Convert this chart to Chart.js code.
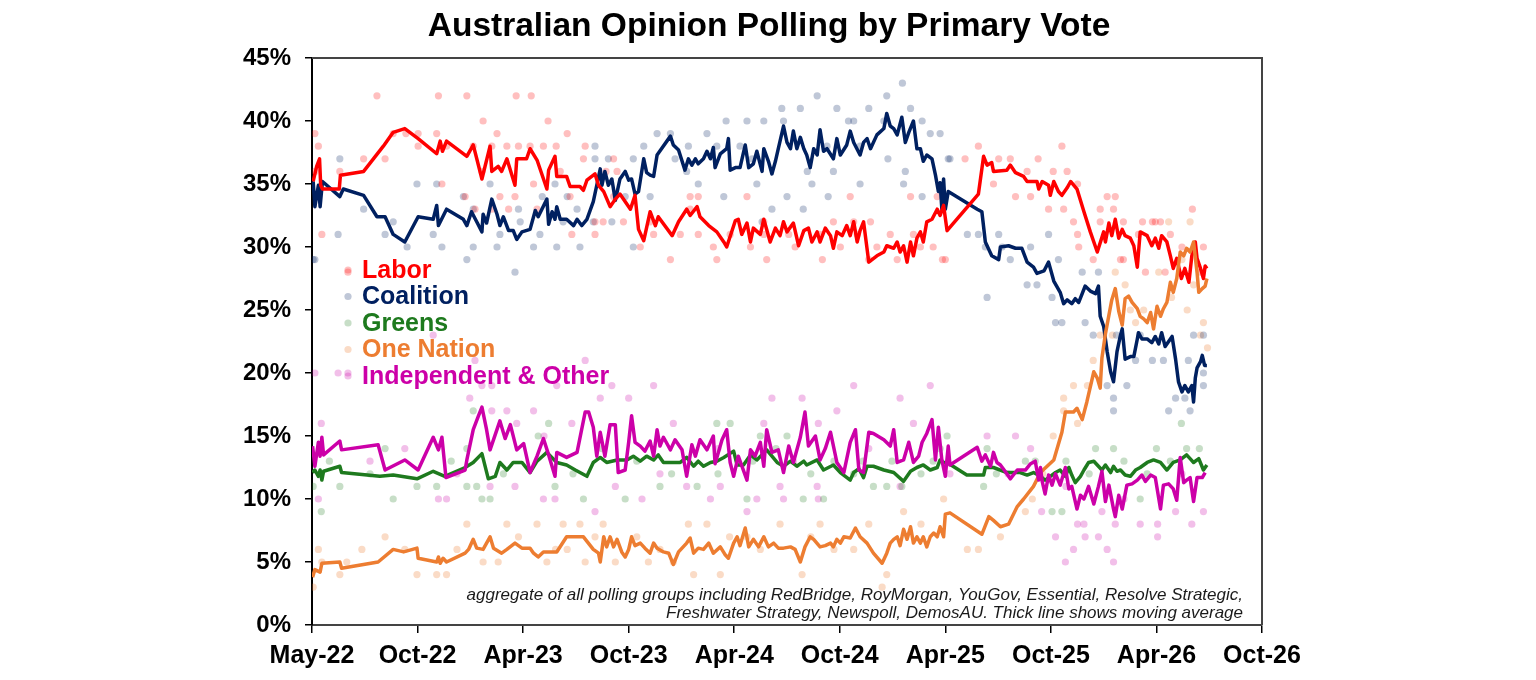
<!DOCTYPE html>
<html>
<head>
<meta charset="utf-8">
<script src="https://cdn.jsdelivr.net/npm/chart.js"></script>
<style>
  html, body { margin: 0; padding: 0; background: #fff; }
  #wrap { width: 1536px; height: 680px; }
</style>
</head>
<body>
<div id="wrap"><canvas id="chart" width="1536" height="680"></canvas></div>
<script>
// === Données (x = jours depuis le 1er mai 2022, y = % du vote primaire) ===
const tickLabels = ['May-22', 'Oct-22', 'Apr-23', 'Oct-23', 'Apr-24', 'Oct-24', 'Apr-25', 'Oct-25', 'Apr-26', 'Oct-26'];
const tickStep = 182;

const seriesNames = ['Labor', 'Coalition', 'Greens', 'One Nation', 'Independent & Other'];
const seriesColors = ['#FF0000', '#002060', '#1E7A1E', '#ED7D31', '#CC00A8'];
const dotColors = ['rgba(255,0,0,0.25)', 'rgba(0,32,96,0.25)', 'rgba(30,122,30,0.25)', 'rgba(237,125,49,0.28)', 'rgba(204,0,168,0.25)'];

// moyennes mobiles
const laborAvg = [[2,35.2],[8,36.4],[13,37.0],[15,34.9],[18,34.6],[47,34.6],[49,35.7],[89,36.0],[123,38.0],[140,39.1],[160,39.4],[183,38.6],[215,37.4],[221,38.4],[225,37.6],[232,38.4],[267,37.2],[278,38.1],[293,35.4],[307,38.0],[310,36.0],[321,36.4],[327,36.0],[336,37.0],[350,34.9],[353,37.0],[370,37.0],[376,37.8],[388,36.9],[405,34.6],[408,36.1],[419,37.2],[422,35.6],[439,35.6],[445,34.8],[462,34.8],[468,34.5],[474,35.3],[488,35.8],[494,34.9],[503,34.4],[514,33.2],[523,33.8],[531,34.2],[549,33.0],[557,34.1],[563,31.4],[572,30.5],[583,32.8],[592,31.7],[597,32.4],[621,30.9],[632,32.0],[646,33.0],[652,32.5],[664,33.2],[669,32.4],[684,31.7],[698,31.2],[710,30.4],[715,30.0],[730,32.1],[735,32.2],[741,31.0],[750,31.9],[756,30.4],[761,31.5],[773,31.0],[779,32.2],[790,30.4],[799,31.5],[807,30.9],[813,32.0],[819,31.2],[830,31.9],[839,30.1],[848,31.3],[856,31.5],[862,30.4],[871,31.2],[876,30.4],[885,31.5],[894,30.9],[899,29.9],[905,31.2],[914,30.9],[922,31.7],[928,30.9],[934,32.0],[940,30.4],[945,31.3],[951,32.0],[960,28.8],[974,29.3],[986,29.6],[991,30.1],[1003,29.9],[1009,30.4],[1014,29.6],[1020,30.1],[1026,28.8],[1032,30.4],[1037,29.3],[1043,30.7],[1049,31.2],[1054,30.4],[1060,32.0],[1069,32.2],[1078,33.0],[1083,32.5],[1089,33.3],[1095,31.3],[1149,34.2],[1158,37.2],[1164,36.5],[1172,36.7],[1175,36.0],[1198,36.1],[1204,36.5],[1213,35.9],[1227,35.6],[1233,35.2],[1250,35.2],[1253,34.6],[1259,35.2],[1270,34.9],[1273,34.1],[1279,35.2],[1287,34.4],[1293,34.1],[1302,34.7],[1308,35.2],[1319,34.6],[1331,32.8],[1342,31.2],[1354,29.6],[1365,31.2],[1368,30.4],[1374,31.9],[1379,30.9],[1385,32.2],[1391,30.7],[1397,31.4],[1402,30.9],[1411,30.7],[1417,30.1],[1423,28.4],[1428,31.2],[1440,30.9],[1448,30.1],[1454,30.7],[1460,29.9],[1465,30.9],[1474,30.4],[1480,29.3],[1485,28.3],[1491,29.1],[1499,27.5],[1505,28.3],[1512,27.2],[1517,29.3],[1523,30.4],[1526,29.1],[1532,28.3],[1537,27.5],[1540,28.5],[1543,28.3]];

const coalitionAvg = [[2,35.2],[5,33.2],[11,34.9],[14,33.2],[18,35.2],[48,34.0],[54,34.6],[89,34.1],[112,32.4],[126,32.4],[140,31.0],[160,30.4],[183,32.4],[209,32.2],[215,33.3],[218,31.7],[232,33.0],[261,32.2],[267,31.7],[275,32.8],[284,32.0],[293,31.2],[295,32.6],[301,31.9],[310,33.8],[319,32.6],[324,31.7],[330,32.4],[339,31.3],[347,31.3],[353,30.6],[362,31.2],[376,31.4],[385,32.9],[390,32.4],[405,33.8],[408,31.8],[414,32.8],[419,32.2],[422,33.2],[428,32.2],[439,32.2],[451,31.7],[457,32.2],[465,31.7],[474,32.2],[485,33.6],[491,34.9],[497,36.2],[500,34.9],[505,36.0],[511,34.9],[517,35.4],[523,33.7],[531,35.4],[540,36.0],[546,35.3],[551,35.4],[557,34.2],[563,34.4],[572,37.0],[577,35.9],[583,35.7],[589,35.6],[595,37.3],[618,38.8],[623,38.1],[632,37.7],[643,36.1],[649,37.0],[655,36.5],[661,37.0],[666,36.6],[675,37.0],[681,37.6],[687,37.0],[692,37.9],[695,36.3],[704,37.4],[715,37.8],[718,38.6],[721,36.1],[730,36.3],[738,36.3],[747,38.1],[753,36.3],[761,36.6],[767,37.6],[776,36.0],[779,37.8],[787,36.8],[793,35.8],[799,36.8],[804,37.8],[813,39.6],[819,38.3],[825,37.8],[830,39.2],[836,37.8],[842,38.7],[848,37.8],[853,37.3],[859,36.3],[865,37.8],[871,37.3],[876,39.3],[882,37.6],[888,37.8],[899,37.0],[905,38.6],[911,37.3],[922,38.1],[928,39.2],[934,38.3],[945,37.3],[951,38.3],[957,38.6],[963,37.8],[974,38.9],[986,39.4],[991,40.6],[997,39.6],[1003,39.4],[1009,38.9],[1017,40.3],[1023,38.3],[1029,39.1],[1037,40.0],[1043,37.8],[1049,37.8],[1054,36.8],[1060,37.3],[1069,37.0],[1075,35.7],[1080,34.4],[1083,35.1],[1086,33.0],[1089,35.4],[1092,33.0],[1097,34.4],[1147,33.0],[1155,32.8],[1161,30.4],[1172,29.3],[1184,29.0],[1187,30.0],[1201,30.1],[1213,29.9],[1224,29.9],[1233,28.8],[1244,28.4],[1250,27.9],[1262,28.1],[1270,28.8],[1279,27.3],[1290,26.4],[1296,25.5],[1302,25.8],[1310,25.5],[1316,25.9],[1322,25.6],[1328,26.3],[1333,26.9],[1342,26.5],[1351,26.3],[1356,26.9],[1359,24.5],[1365,23.7],[1371,21.7],[1377,20.1],[1382,19.3],[1388,21.7],[1394,23.0],[1397,23.5],[1402,21.1],[1411,21.3],[1417,21.3],[1423,22.7],[1425,23.2],[1431,22.7],[1440,22.7],[1448,22.4],[1454,22.9],[1460,22.3],[1465,23.2],[1471,22.1],[1477,22.5],[1483,22.9],[1489,21.1],[1494,19.3],[1500,18.5],[1505,19.0],[1511,18.5],[1517,19.0],[1520,17.7],[1523,19.6],[1526,20.4],[1532,20.9],[1535,21.4],[1539,20.6],[1543,20.6]];

const greensAvg = [[1,12.1],[5,12.3],[11,11.8],[14,12.3],[17,11.5],[20,12.2],[48,12.6],[51,12.1],[117,11.8],[140,11.9],[181,11.6],[209,12.2],[229,11.8],[264,12.5],[278,12.9],[293,13.6],[304,11.6],[316,11.8],[324,12.9],[336,12.3],[347,12.9],[362,12.9],[376,12.1],[388,13.0],[405,13.7],[422,12.9],[439,12.7],[454,12.3],[474,11.8],[485,12.9],[497,13.3],[508,12.9],[526,13.1],[543,13.1],[554,13.4],[566,13.0],[577,13.4],[589,13.1],[597,13.5],[606,12.9],[635,12.9],[646,13.3],[658,12.6],[666,13.0],[675,12.6],[687,12.9],[698,13.0],[710,13.3],[727,13.8],[733,12.7],[744,12.7],[756,13.5],[767,13.1],[784,13.9],[802,12.9],[813,12.6],[825,13.0],[836,12.6],[848,13.0],[853,12.7],[871,13.1],[882,12.3],[899,12.7],[911,12.1],[928,11.5],[934,12.1],[943,12.4],[951,11.7],[957,12.6],[968,12.6],[986,12.3],[1003,12.1],[1020,11.4],[1032,12.2],[1043,12.5],[1054,12.7],[1066,12.3],[1078,12.5],[1083,13.1],[1089,12.9],[1095,12.9],[1129,11.9],[1158,11.9],[1161,12.5],[1175,12.5],[1198,12.1],[1221,12.1],[1233,11.9],[1244,12.1],[1256,11.8],[1264,11.5],[1273,11.8],[1282,12.1],[1290,12.3],[1299,11.8],[1305,12.5],[1310,11.9],[1316,11.3],[1325,11.8],[1331,12.3],[1339,12.9],[1348,13.0],[1356,12.6],[1362,12.3],[1368,12.7],[1377,12.1],[1382,12.6],[1388,12.2],[1394,12.3],[1402,11.9],[1411,11.8],[1420,12.3],[1428,12.5],[1440,12.9],[1451,13.1],[1463,12.9],[1474,12.3],[1485,12.9],[1497,13.1],[1508,13.5],[1514,13.2],[1520,12.9],[1529,13.2],[1537,12.3],[1543,12.7]];

const oneNationAvg = [[1,3.8],[5,4.4],[14,4.2],[17,4.9],[48,5.0],[51,4.5],[114,5.0],[140,6.0],[158,5.8],[181,6.1],[183,5.3],[215,5.0],[218,5.4],[221,4.9],[226,5.3],[232,5.0],[264,5.7],[270,6.0],[278,6.8],[284,6.1],[295,6.0],[307,7.0],[313,6.1],[327,5.7],[336,6.0],[350,6.5],[362,6.1],[376,6.1],[382,5.7],[390,5.4],[399,5.8],[422,5.8],[439,7.0],[468,7.0],[485,6.0],[494,5.7],[497,5.0],[503,7.0],[508,6.2],[514,7.0],[520,6.2],[526,6.8],[534,5.8],[540,5.4],[546,6.0],[551,7.0],[557,6.3],[566,6.5],[574,6.1],[583,5.7],[589,6.5],[595,6.1],[606,5.8],[615,5.7],[623,4.8],[632,5.8],[646,6.5],[652,6.9],[658,5.7],[666,6.1],[675,6.0],[684,6.5],[692,5.7],[704,6.2],[712,5.6],[718,5.3],[727,6.5],[733,7.0],[738,6.3],[747,7.7],[753,6.2],[761,6.8],[770,6.2],[779,7.0],[787,6.2],[796,6.5],[804,6.1],[813,6.1],[825,6.2],[833,6.0],[842,5.0],[850,6.2],[859,7.0],[865,6.8],[876,6.2],[885,6.3],[894,6.5],[899,6.2],[905,6.8],[911,6.5],[917,7.0],[928,6.9],[937,7.7],[945,7.0],[957,6.5],[968,5.7],[983,4.9],[991,5.7],[997,6.5],[1003,6.8],[1009,7.0],[1014,6.3],[1020,7.6],[1026,6.8],[1032,7.8],[1037,6.5],[1043,7.0],[1049,6.5],[1054,7.0],[1060,6.2],[1066,7.0],[1072,7.3],[1078,7.0],[1083,7.8],[1089,7.0],[1092,8.8],[1100,8.9],[1155,7.2],[1167,8.6],[1175,8.3],[1187,7.8],[1201,8.0],[1216,9.4],[1227,10.0],[1244,11.0],[1256,12.1],[1279,13.1],[1293,15.3],[1299,16.9],[1313,16.9],[1319,17.2],[1328,16.3],[1336,17.7],[1348,20.1],[1354,19.6],[1359,18.8],[1362,21.2],[1368,23.1],[1379,25.8],[1385,26.7],[1391,24.9],[1397,23.8],[1402,25.9],[1408,26.1],[1414,25.6],[1423,25.1],[1428,24.5],[1434,24.3],[1440,24.0],[1446,24.8],[1451,23.5],[1457,25.3],[1463,24.5],[1468,25.1],[1474,25.6],[1480,27.2],[1485,26.4],[1491,27.5],[1497,29.6],[1503,29.3],[1508,29.9],[1514,29.6],[1520,30.4],[1526,28.0],[1529,26.4],[1535,26.7],[1540,26.9],[1543,27.5]];

const otherAvg = [[1,14.2],[5,12.6],[11,14.5],[14,13.4],[17,14.9],[20,13.5],[48,14.6],[51,13.9],[114,14.3],[126,12.3],[160,13.1],[183,12.3],[209,14.9],[218,13.9],[224,14.9],[231,11.7],[264,12.3],[267,13.1],[278,15.5],[287,16.6],[293,17.3],[301,15.5],[307,13.9],[324,16.2],[333,14.8],[342,15.9],[353,13.9],[365,14.4],[376,12.1],[388,13.4],[399,14.8],[408,13.5],[419,11.8],[422,13.7],[439,13.3],[457,13.7],[471,16.9],[477,16.9],[485,15.7],[491,13.4],[497,15.3],[505,13.4],[514,15.9],[523,15.9],[528,12.1],[540,12.3],[546,14.5],[551,16.6],[557,14.5],[566,14.2],[574,13.8],[583,14.6],[589,13.4],[595,15.5],[600,14.2],[606,14.9],[618,13.9],[626,14.7],[638,13.9],[646,11.8],[655,14.3],[661,13.4],[669,14.7],[681,13.9],[692,15.0],[695,12.8],[707,14.7],[715,15.5],[721,12.9],[727,11.8],[735,13.4],[750,11.5],[756,13.9],[764,13.4],[773,14.5],[779,12.6],[784,15.5],[793,13.7],[804,13.9],[813,12.1],[822,14.2],[830,12.9],[842,14.9],[850,16.9],[856,14.2],[868,15.0],[876,13.1],[885,14.0],[894,15.3],[905,12.9],[917,12.1],[928,14.5],[937,15.5],[943,12.3],[951,12.1],[960,15.3],[968,15.2],[986,14.7],[997,14.2],[1003,15.5],[1009,12.9],[1020,13.1],[1029,14.5],[1037,12.9],[1046,13.4],[1052,14.5],[1060,15.2],[1069,16.3],[1075,13.1],[1080,15.7],[1086,13.1],[1092,11.8],[1097,14.2],[1100,12.7],[1147,14.1],[1155,13.0],[1161,13.5],[1170,12.6],[1175,13.7],[1181,12.9],[1187,12.7],[1195,12.2],[1204,11.6],[1216,12.3],[1230,12.3],[1239,12.8],[1247,13.0],[1253,11.5],[1256,12.5],[1259,11.4],[1264,10.4],[1270,11.9],[1276,11.1],[1282,12.0],[1290,11.1],[1299,12.5],[1305,10.8],[1310,11.0],[1319,9.2],[1325,10.3],[1331,10.0],[1339,11.0],[1348,9.6],[1356,11.0],[1362,12.2],[1368,9.8],[1374,11.1],[1382,9.2],[1385,8.6],[1391,10.3],[1397,9.2],[1405,11.1],[1414,11.2],[1423,11.5],[1431,11.9],[1437,11.4],[1446,11.9],[1454,11.7],[1463,9.2],[1468,11.1],[1477,11.2],[1485,10.8],[1491,9.9],[1497,13.3],[1503,11.3],[1508,11.5],[1514,11.7],[1520,9.8],[1526,11.7],[1535,11.7],[1540,12.1]];

// sondages individuels (points)
const laborPolls = [[5,39],[5,36],[11,38],[17,31],[62,28],[48,36],[89,37],[112,42],[126,37],[140,39],[162,39],[183,39],[183,38],[215,39],[218,42],[224,35],[232,38],[264,34],[267,42],[278,38],[281,33],[293,36],[295,40],[310,38],[310,33],[319,39],[324,34],[336,38],[339,33],[350,34],[352,42],[356,38],[376,38],[378,42],[382,35],[388,33],[399,38],[407,40],[421,38],[428,36],[440,39],[445,34],[448,31],[468,37],[471,38],[488,32],[488,31],[502,32],[507,36],[520,37],[520,34],[526,36],[537,32],[566,30],[583,32],[589,31],[618,29],[635,31],[652,34],[652,33],[666,34],[666,31],[692,30],[698,29],[721,31],[750,34],[756,30],[779,32],[779,31],[784,29],[822,31],[833,30],[876,31],[880,29],[899,32],[911,30],[928,34],[934,32],[940,31],[960,29],[963,32],[974,30],[997,31],[1009,29],[1032,34],[1037,31],[1049,30],[1071,30],[1078,34],[1087,29],[1092,29],[1126,37],[1149,38],[1175,35],[1184,37],[1204,37],[1213,34],[1233,36],[1239,34],[1252,37],[1270,33],[1278,36],[1293,38],[1296,33],[1302,36],[1313,32],[1320,35],[1320,31],[1322,30],[1347,29],[1359,33],[1359,32],[1371,34],[1382,33],[1385,34],[1394,29],[1399,32],[1399,29],[1425,31],[1432,32],[1437,28],[1449,32],[1454,32],[1463,32],[1471,28],[1480,31],[1500,30],[1518,33],[1532,28],[1537,30]];

const coalitionPolls = [[2,29],[5,29],[45,31],[48,37],[89,33],[126,31],[140,32],[164,30],[181,35],[209,31],[215,35],[224,30],[261,34],[267,29],[278,33],[278,30],[307,35],[319,30],[324,31],[350,28],[356,33],[359,32],[382,30],[393,31],[397,34],[419,35],[422,30],[433,32],[440,34],[457,33],[462,30],[485,32],[488,38],[488,37],[511,37],[517,32],[540,34],[554,37],[554,30],[572,38],[583,34],[595,39],[618,39],[626,37],[646,36],[649,38],[666,35],[681,39],[698,38],[710,34],[714,40],[738,38],[750,40],[759,37],[767,35],[776,32],[779,40],[793,33],[810,41],[813,40],[819,34],[842,41],[847,33],[854,36],[862,35],[871,42],[888,38],[890,34],[899,36],[905,41],[925,40],[934,40],[945,38],[945,35],[960,41],[986,40],[991,42],[993,37],[1018,43],[1020,35],[1023,36],[1032,41],[1052,40],[1052,34],[1066,39],[1083,39],[1097,37],[1100,37],[1130,31],[1149,31],[1161,30],[1164,26],[1184,31],[1190,30],[1204,29],[1233,27],[1239,30],[1250,27],[1270,31],[1276,26],[1282,24],[1287,29],[1293,24],[1328,28],[1333,24],[1347,23],[1356,28],[1371,19],[1382,18],[1382,17],[1387,23],[1405,19],[1420,21],[1428,23],[1449,21],[1468,21],[1477,17],[1489,18],[1505,18],[1511,21],[1514,17],[1520,23],[1537,23],[1537,20],[1537,19]];

const greensPolls = [[2,11],[16,9],[30,13],[48,11],[100,12],[126,14],[140,10],[181,11],[215,11],[240,13],[267,11],[267,14],[278,17],[284,11],[293,10],[307,10],[330,12],[390,15],[408,16],[419,11],[450,12],[468,10],[500,14],[540,10],[560,13],[600,11],[620,12],[664,11],[698,16],[700,12],[721,16],[750,10],[760,13],[773,15],[800,14],[819,15],[847,10],[860,12],[882,10],[900,13],[934,12],[950,13],[968,11],[991,11],[1000,13],[1017,11],[1050,12],[1071,13],[1083,14],[1095,15],[1158,11],[1164,14],[1180,12],[1230,13],[1247,13],[1276,9],[1293,9],[1300,13],[1340,12],[1351,14],[1382,14],[1400,13],[1428,10],[1440,12],[1456,14],[1480,13],[1499,16],[1508,14],[1530,14]];

const oneNationPolls = [[2,3],[11,6],[17,5],[48,4],[60,5],[86,6],[126,7],[160,6],[181,4],[215,4],[232,4],[250,6],[267,8],[295,5],[321,5],[336,8],[356,7],[388,8],[405,5],[420,6],[433,8],[440,6],[462,8],[471,5],[488,7],[502,8],[523,5],[560,7],[580,5],[600,6],[623,5],[649,8],[658,4],[681,8],[704,4],[720,7],[750,7],[773,6],[807,8],[845,4],[860,7],[876,8],[900,6],[934,6],[960,8],[983,3],[991,4],[1020,9],[1050,8],[1089,10],[1130,6],[1149,6],[1187,7],[1230,9],[1242,10],[1260,12],[1278,15],[1296,17],[1296,18],[1313,19],[1320,16],[1337,19],[1347,21],[1359,23],[1380,23],[1385,28],[1402,27],[1411,25],[1420,24],[1434,25],[1460,28],[1477,32],[1482,26],[1500,29],[1509,25],[1514,32],[1520,27],[1532,23],[1537,24],[1544,22]];

const otherPolls = [[5,20],[11,10],[16,16],[45,20],[62,20],[100,13],[160,14],[209,23],[218,10],[232,10],[250,12],[272,18],[281,21],[293,19],[307,11],[310,17],[310,19],[336,17],[350,11],[353,16],[382,17],[399,10],[400,15],[419,10],[422,19],[448,16],[471,21],[488,9],[497,18],[517,19],[523,11],[546,18],[569,10],[589,19],[600,12],[623,16],[646,11],[687,10],[700,14],[704,11],[750,9],[767,10],[779,16],[793,18],[807,11],[813,10],[830,13],[845,18],[871,11],[873,16],[873,10],[905,17],[934,19],[960,14],[1014,18],[1014,11],[1037,16],[1066,19],[1100,12],[1164,15],[1200,12],[1213,15],[1239,14],[1258,9],[1282,7],[1299,5],[1300,11],[1313,6],[1320,8],[1331,8],[1333,7],[1356,7],[1362,9],[1371,6],[1382,5],[1385,8],[1400,10],[1428,8],[1458,7],[1458,8],[1489,9],[1500,12],[1517,8],[1537,9]];

const noteLines = [
  'aggregate of all polling groups including RedBridge, RoyMorgan, YouGov, Essential, Resolve Strategic,',
  'Freshwater Strategy, Newspoll, DemosAU. Thick line shows moving average'
];

const FONT = '"Liberation Sans", Arial, sans-serif';

// === Construction des jeux de données ===
const avgSeries = [laborAvg, coalitionAvg, greensAvg, oneNationAvg, otherAvg];
const pollSeries = [laborPolls, coalitionPolls, greensPolls, oneNationPolls, otherPolls];
const lineOrder = [4, 5, 3, 2, 1]; // plus petit = dessiné au-dessus

const toXY = arr => arr.map(p => ({ x: p[0], y: p[1] }));

const datasets = [];
pollSeries.forEach((s, i) => {
  datasets.push({
    type: 'scatter',
    label: seriesNames[i] + ' polls',
    data: toXY(s),
    pointRadius: 3.6,
    pointHoverRadius: 3.6,
    pointBackgroundColor: dotColors[i],
    pointBorderWidth: 0,
    order: 10
  });
});
avgSeries.forEach((s, i) => {
  datasets.push({
    type: 'line',
    label: seriesNames[i],
    data: toXY(s),
    borderColor: seriesColors[i],
    borderWidth: 3.5,
    pointRadius: 0,
    tension: 0,
    borderJoinStyle: 'round',
    fill: false,
    order: lineOrder[i]
  });
});

// === Plugins de dessin : titre, cadre, légende, note ===
const decor = {
  id: 'decor',
  beforeDatasetsDraw(chart) {
    const { ctx, chartArea: a } = chart;
    ctx.save();
    ctx.strokeStyle = '#444';
    ctx.lineWidth = 2;
    ctx.beginPath();
    ctx.moveTo(a.left, a.top);
    ctx.lineTo(a.right, a.top);
    ctx.lineTo(a.right, a.bottom);
    ctx.stroke();
    ctx.restore();
  },
  afterDraw(chart) {
    const { ctx, chartArea: a } = chart;
    ctx.save();
    // titre
    ctx.fillStyle = '#000';
    ctx.font = 'bold 33.5px ' + FONT;
    ctx.textAlign = 'center';
    ctx.textBaseline = 'middle';
    ctx.fillText('Australian Opinion Polling by Primary Vote', 769, 27);

    // légende
    ctx.font = 'bold 25px ' + FONT;
    ctx.textAlign = 'left';
    seriesNames.forEach((name, i) => {
      const y = a.top + 212 + i * 26.5;
      ctx.fillStyle = dotColors[i];
      ctx.beginPath();
      ctx.arc(a.left + 36, y, 3.6, 0, Math.PI * 2);
      ctx.fill();
      ctx.fillStyle = seriesColors[i];
      ctx.fillText(name, a.left + 50, y + 1);
    });

    // note
    ctx.font = 'italic 17px ' + FONT;
    ctx.fillStyle = '#1a1a1a';
    ctx.textAlign = 'right';
    noteLines.forEach((t, i) => ctx.fillText(t, a.right - 19, a.bottom - 30 + i * 18));
    ctx.restore();
  }
};

new Chart(document.getElementById('chart'), {
  data: { datasets },
  options: {
    responsive: false,
    animation: false,
    devicePixelRatio: 1,
    layout: { padding: { left: 0, right: 274, top: 58, bottom: 0 } },
    plugins: { legend: { display: false }, tooltip: { enabled: false }, title: { display: false } },
    scales: {
      x: {
        type: 'linear',
        min: 0,
        max: tickStep * (tickLabels.length - 1),
        afterFit: s => { s.height = 55; },
        afterBuildTicks: s => { s.ticks = tickLabels.map((_, i) => ({ value: i * tickStep })); },
        ticks: {
          autoSkip: false,
          maxRotation: 0,
          padding: 8,
          color: '#000',
          font: { family: FONT, size: 25, weight: 'bold' },
          callback: (v) => tickLabels[Math.round(v / tickStep)]
        },
        grid: { drawOnChartArea: false, drawTicks: true, tickLength: 8, color: '#000', lineWidth: 1.5 },
        border: { display: true, color: '#444', width: 2 }
      },
      y: {
        min: 0,
        max: 45,
        afterFit: s => { s.width = 312; },
        ticks: {
          stepSize: 5,
          padding: 14,
          color: '#000',
          font: { family: FONT, size: 24, weight: 'bold' },
          callback: v => v + '%'
        },
        grid: { drawOnChartArea: false, drawTicks: true, tickLength: 7, color: '#000', lineWidth: 1.5 },
        border: { display: true, color: '#000', width: 2 }
      }
    }
  },
  plugins: [decor]
});
</script>
</body>
</html>
